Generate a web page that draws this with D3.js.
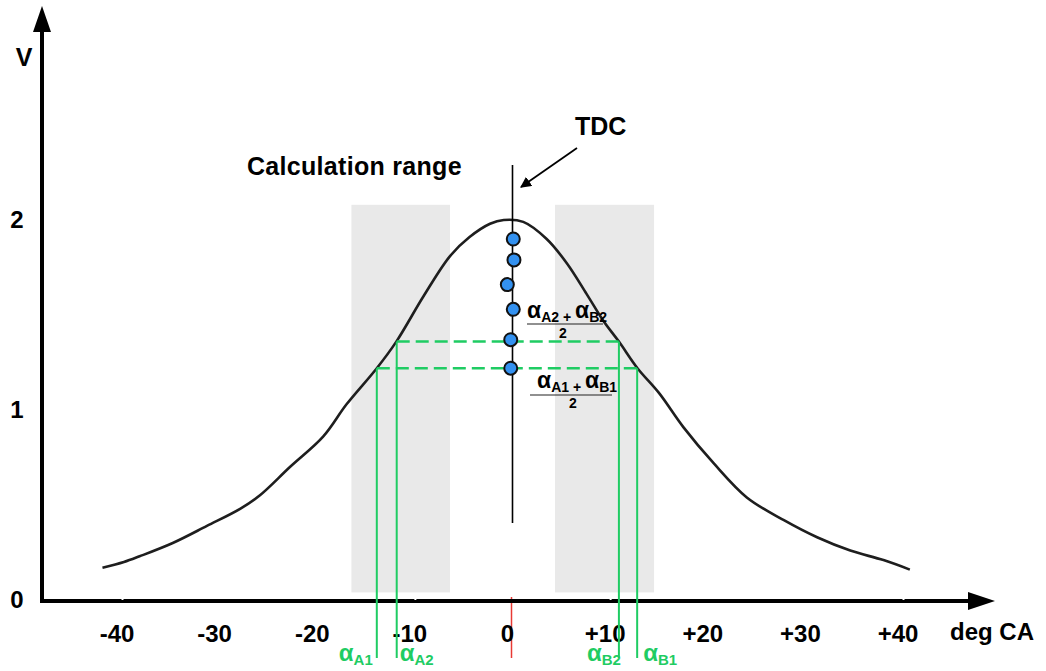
<!DOCTYPE html>
<html lang="en">
<head>
	<meta charset="utf-8">
	<title>TDC calculation range</title>
	<script src="https://cdn.jsdelivr.net/npm/d3@7"></script>
	<style>
		body { margin: 0; background: #fff; }
		text { font-family: "Liberation Sans", Arial, sans-serif; font-weight: bold; }
	</style>
</head>
<body>
<script>
	// width and height
	var w = 1046;
	var h = 671;

	// pressure curve (deg CA, V)
	var curveX = [-42.0, -39.8, -38.2, -34.8, -31.3, -27.9, -25.9, -22.8, -19.4, -17.0, -13.9, -11.9,
		-9.1, -6.4, -4.4, -2.3, -0.9, 1.1, 3.5, 5.6, 7.6, 9.3, 10.9, 12.8, 15.0, 17.5, 20.6, 24.0,
		27.8, 31.2, 34.6, 38.0, 40.7];
	var curveV = [0.17, 0.20, 0.23, 0.30, 0.39, 0.48, 0.55, 0.70, 0.86, 1.03, 1.22, 1.36,
		1.60, 1.81, 1.91, 1.98, 2.00, 1.99, 1.90, 1.77, 1.61, 1.47, 1.36, 1.22, 1.09, 0.91, 0.72, 0.54,
		0.42, 0.33, 0.26, 0.21, 0.16];

	// axis ticks
	var xTicks = [-40, -30, -20, -10, 0, 10, 20, 30, 40];
	var xTickLabels = ["-40", "-30", "-20", "-10", "0", "+10", "+20", "+30", "+40"];
	var yTicks = [0, 1, 2];

	// calculated midpoints (blue dots)
	var dotX = [0.08, 0.15, -0.53, 0.08, -0.18, -0.18];
	var dotV = [1.90, 1.79, 1.66, 1.53, 1.37, 1.22];

	// calculation ranges
	var rangeStart = [-16.5, 4.35];
	var rangeEnd = [-6.4, 14.5];
	var rangeTop = 2.08;
	var rangeBottom = 0.04;

	// threshold levels and crossing angles
	var levels = [1.22, 1.36];
	var alphaA = [-13.9, -11.86];
	var alphaB = [12.77, 10.9];

	var tdcTop = 2.29;
	var tdcBottom = 0.405;

	var green = "#1fcc63";

	// scales
	var xScale = d3.scaleLinear().domain([-40, 40]).range([122, 903]);
	var yScale = d3.scaleLinear().domain([0, 2]).range([600, 220]);

	var svg = d3.select("body")
		.append("svg")
		.attr("width", w)
		.attr("height", h);

	// grey calculation ranges
	svg.selectAll("rect.range")
		.data(rangeStart)
		.enter()
		.append("rect")
		.attr("class", "range")
		.attr("x", function (d) { return xScale(d); })
		.attr("width", function (d, i) { return xScale(rangeEnd[i]) - xScale(d); })
		.attr("y", yScale(rangeTop))
		.attr("height", yScale(rangeBottom) - yScale(rangeTop))
		.attr("fill", "#e9e9e9");

	// red mark under TDC
	svg.append("line")
		.attr("x1", xScale(0) - 1).attr("x2", xScale(0) - 1)
		.attr("y1", yScale(0) - 3).attr("y2", 658)
		.attr("stroke", "#e83a34")
		.attr("stroke-width", 1.5);

	// axes
	svg.append("line")
		.attr("x1", 42).attr("x2", 42)
		.attr("y1", 603).attr("y2", 30)
		.attr("stroke", "black").attr("stroke-width", 4);
	svg.append("path")
		.attr("d", "M42,6 L51,32 L33,32 Z")
		.attr("fill", "black");
	svg.append("line")
		.attr("x1", 40).attr("x2", 970)
		.attr("y1", 601).attr("y2", 601)
		.attr("stroke", "black").attr("stroke-width", 4);
	svg.append("path")
		.attr("d", "M995,601 L968,592 L968,610 Z")
		.attr("fill", "black");

	// tiny white notches on the x axis
	var xAxis = d3.axisTop(xScale).tickValues([-40, -10, 10, 40]).tickSize(2).tickFormat("");
	var gx = svg.append("g")
		.attr("transform", "translate(0," + 601 + ")")
		.call(xAxis);
	gx.select(".domain").remove();
	gx.selectAll(".tick line").attr("stroke", "white").attr("stroke-width", 2).attr("transform", "translate(0,-1)");

	// tick labels
	svg.selectAll("text.xtick")
		.data(xTicks)
		.enter()
		.append("text")
		.attr("class", "xtick")
		.attr("x", function (d) { return xScale(d) - 5; })
		.attr("y", 642)
		.attr("text-anchor", "middle")
		.attr("font-size", "24px")
		.text(function (d, i) { return xTickLabels[i]; });

	svg.selectAll("text.ytick")
		.data(yTicks)
		.enter()
		.append("text")
		.attr("class", "ytick")
		.attr("x", 17)
		.attr("y", function (d) { return yScale(d) + 8; })
		.attr("text-anchor", "middle")
		.attr("font-size", "24px")
		.text(function (d) { return d; });

	svg.append("text")
		.attr("x", 24).attr("y", 66)
		.attr("text-anchor", "middle")
		.attr("font-size", "25px")
		.text("V");

	svg.append("text")
		.attr("x", 950).attr("y", 640)
		.attr("font-size", "24px")
		.text("deg CA");

	// the curve
	var line = d3.line()
		.x(function (d, i) { return xScale(curveX[i]); })
		.y(function (d) { return yScale(d); })
		.curve(d3.curveCatmullRom);

	svg.append("path")
		.datum(curveV)
		.attr("d", line)
		.attr("fill", "none")
		.attr("stroke", "#1e1e1e")
		.attr("stroke-width", 2.6);

	// green threshold lines
	levels.forEach(function (v, i) {
		svg.append("line")
			.attr("x1", xScale(alphaA[i])).attr("x2", xScale(alphaB[i]))
			.attr("y1", yScale(v)).attr("y2", yScale(v))
			.attr("stroke", green)
			.attr("stroke-width", 2.5)
			.attr("stroke-dasharray", "13,6");
		[alphaA[i], alphaB[i]].forEach(function (a) {
			svg.append("line")
				.attr("x1", xScale(a)).attr("x2", xScale(a))
				.attr("y1", yScale(v)).attr("y2", 658)
				.attr("stroke", green)
				.attr("stroke-width", 2);
		});
	});

	// alpha labels under the axis
	var alphaLabels = [
		{ x: xScale(alphaA[0]) - 4, anchor: "end", sub: "A1" },
		{ x: xScale(alphaA[1]) + 3, anchor: "start", sub: "A2" },
		{ x: xScale(alphaB[1]) + 2, anchor: "end", sub: "B2" },
		{ x: xScale(alphaB[0]) + 6, anchor: "start", sub: "B1" }
	];
	alphaLabels.forEach(function (d) {
		var t = svg.append("text")
			.attr("x", d.x)
			.attr("y", 661)
			.attr("text-anchor", d.anchor)
			.attr("fill", green)
			.attr("font-size", "24px");
		t.append("tspan").text("α");
		t.append("tspan").attr("font-size", "15px").attr("dy", 4).text(d.sub);
	});

	// TDC line
	svg.append("line")
		.attr("x1", xScale(0)).attr("x2", xScale(0))
		.attr("y1", yScale(tdcTop)).attr("y2", yScale(tdcBottom))
		.attr("stroke", "black")
		.attr("stroke-width", 1.6);

	// blue dots
	svg.selectAll("circle")
		.data(dotV)
		.enter()
		.append("circle")
		.attr("cx", function (d, i) { return xScale(dotX[i]); })
		.attr("cy", function (d) { return yScale(d); })
		.attr("r", 6.5)
		.attr("fill", "#3391f0")
		.attr("stroke", "#111")
		.attr("stroke-width", 2);

	// TDC arrow and label
	svg.append("defs").append("marker")
		.attr("id", "head")
		.attr("viewBox", "0 0 10 10")
		.attr("refX", 9).attr("refY", 5)
		.attr("markerWidth", 11).attr("markerHeight", 11)
		.attr("markerUnits", "userSpaceOnUse")
		.attr("orient", "auto")
		.append("path")
		.attr("d", "M0,0 L10,5 L0,10 Z")
		.attr("fill", "black");

	svg.append("line")
		.attr("x1", 577).attr("y1", 148)
		.attr("x2", 521).attr("y2", 187)
		.attr("stroke", "black")
		.attr("stroke-width", 1.8)
		.attr("marker-end", "url(#head)");

	svg.append("text")
		.attr("x", 575).attr("y", 135)
		.attr("font-size", "25px")
		.text("TDC");

	svg.append("text")
		.attr("x", 247).attr("y", 175)
		.attr("font-size", "25px")
		.attr("letter-spacing", "0.3px")
		.text("Calculation range");

	// fraction labels
	var fractions = [
		{ x: 527, y: 318, lineY: 324, lineX2: 603, twoX: 563, twoY: 338, a: "A2", b: "B2" },
		{ x: 537, y: 388, lineY: 395, lineX1: 530, lineX2: 612, twoX: 573, twoY: 408, a: "A1", b: "B1" }
	];
	fractions.forEach(function (f) {
		var t = svg.append("text")
			.attr("x", f.x)
			.attr("y", f.y)
			.attr("font-size", "23px");
		t.append("tspan").text("α");
		t.append("tspan").attr("font-size", "14px").attr("dy", 4).text(f.a + " + ");
		t.append("tspan").attr("dy", -4).text("α");
		t.append("tspan").attr("font-size", "14px").attr("dy", 4).text(f.b);

		svg.append("line")
			.attr("x1", f.lineX1 || f.x).attr("x2", f.lineX2)
			.attr("y1", f.lineY).attr("y2", f.lineY)
			.attr("stroke", "#222")
			.attr("stroke-width", 1.2);

		svg.append("text")
			.attr("x", f.twoX)
			.attr("y", f.twoY)
			.attr("text-anchor", "middle")
			.attr("font-size", "14px")
			.text("2");
	});
</script>
</body>
</html>
